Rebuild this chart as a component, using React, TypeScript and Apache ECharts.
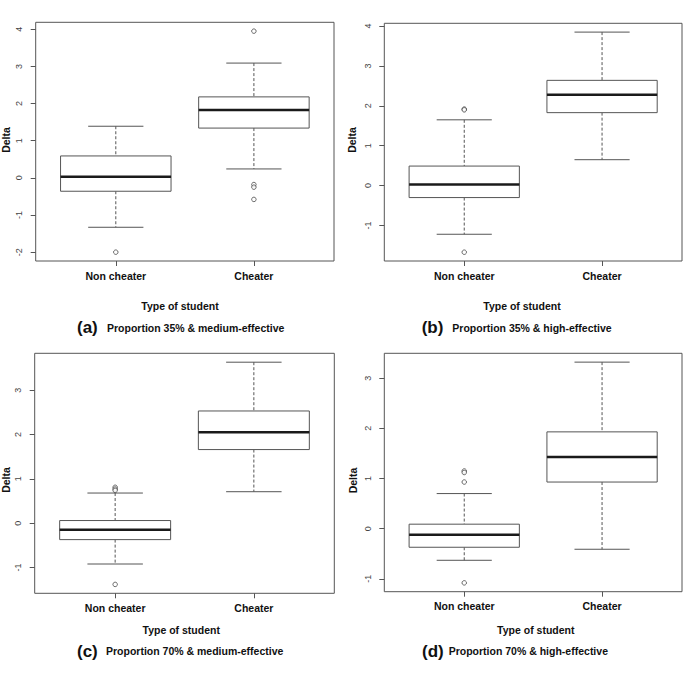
import React, { useEffect, useRef } from "react";
import * as echarts from "echarts";

const categories = ["Non cheater", "Cheater"];
const groupPositions = [1, 2];

// [lower whisker, Q1, median, Q3, upper whisker]
const boxA = [[-1.33, -0.36, 0.03, 0.59, 1.39], [0.24, 1.34, 1.83, 2.18, 3.09]];
const boxB = [[-1.22, -0.3, 0.03, 0.49, 1.65], [0.65, 1.83, 2.28, 2.64, 3.85]];
const boxC = [[-0.92, -0.37, -0.15, 0.06, 0.68], [0.71, 1.66, 2.05, 2.53, 3.63]];
const boxD = [[-0.63, -0.37, -0.12, 0.09, 0.7], [-0.41, 0.93, 1.43, 1.93, 3.32]];

// [group index, value]
const outA = [[0, -2.0], [1, 3.95], [1, -0.18], [1, -0.25], [1, -0.58]];
const outB = [[0, 1.92], [0, 1.9], [0, -1.67]];
const outC = [[0, 0.81], [0, 0.77], [0, 0.74], [0, -1.38]];
const outD = [[0, 1.15], [0, 1.12], [0, 0.93], [0, -1.08]];

const ticksA = [-2, -1, 0, 1, 2, 3, 4];
const ticksB = [-1, 0, 1, 2, 3, 4];
const ticksC = [-1, 0, 1, 2, 3];
const ticksD = [-1, 0, 1, 2, 3];

const panelLetters = ["(a)", "(b)", "(c)", "(d)"];
const panelCaptions = [
  "Proportion 35% & medium-effective",
  "Proportion 35% & high-effective",
  "Proportion 70% & medium-effective",
  "Proportion 70% & high-effective",
];
const yTitle = "Delta";
const xTitle = "Type of student";

const FONT = "'Liberation Sans', Arial, Helvetica, sans-serif";

const panels = [
  { box: boxA, out: outA, ticks: ticksA, grid: { left: 35.7, top: 22.3, width: 298.3, height: 238.7 },
    delta: [5.5, 140], type: [180, 305.5], letter: [77, 327.5], caption: [107, 327.5] },
  { box: boxB, out: outB, ticks: ticksB, grid: { left: 384.3, top: 23.3, width: 297.7, height: 237.7 },
    delta: [352.2, 140], type: [522, 305.5], letter: [421.7, 327.5], caption: [452.3, 327.5] },
  { box: boxC, out: outC, ticks: ticksC, grid: { left: 34.7, top: 353.3, width: 299.6, height: 240 },
    delta: [6.3, 480], type: [181.2, 629.5], letter: [77, 651], caption: [106, 651] },
  { box: boxD, out: outD, ticks: ticksD, grid: { left: 384.3, top: 353.3, width: 297.7, height: 238.4 },
    delta: [352.8, 480.5], type: [535.8, 629.5], letter: [422, 651], caption: [448.7, 651] },
];

function renderBox(params: any, api: any) {
  const x = api.value(0);
  const lo = api.value(1), q1 = api.value(2), med = api.value(3), q3 = api.value(4), hi = api.value(5);
  const half = 0.4, cap = 0.2;
  const tl = api.coord([x - half, q3]);
  const br = api.coord([x + half, q1]);
  const mL = api.coord([x - half, med]);
  const mR = api.coord([x + half, med]);
  const pHi = api.coord([x, hi]);
  const pQ3 = api.coord([x, q3]);
  const pQ1 = api.coord([x, q1]);
  const pLo = api.coord([x, lo]);
  const capHiL = api.coord([x - cap, hi]);
  const capHiR = api.coord([x + cap, hi]);
  const capLoL = api.coord([x - cap, lo]);
  const capLoR = api.coord([x + cap, lo]);
  const stroke = "#555";
  const dashed = { stroke, lineWidth: 1, lineDash: [3, 2] };
  const solid = { stroke, lineWidth: 1 };
  return {
    type: "group",
    children: [
      { type: "line", shape: { x1: pHi[0], y1: pHi[1], x2: pQ3[0], y2: pQ3[1] }, style: dashed },
      { type: "line", shape: { x1: pQ1[0], y1: pQ1[1], x2: pLo[0], y2: pLo[1] }, style: dashed },
      { type: "line", shape: { x1: capHiL[0], y1: capHiL[1], x2: capHiR[0], y2: capHiR[1] }, style: solid },
      { type: "line", shape: { x1: capLoL[0], y1: capLoL[1], x2: capLoR[0], y2: capLoR[1] }, style: solid },
      { type: "rect", shape: { x: tl[0], y: tl[1], width: br[0] - tl[0], height: br[1] - tl[1] },
        style: { fill: "#fff", stroke, lineWidth: 1 } },
      { type: "line", shape: { x1: mL[0], y1: mL[1], x2: mR[0], y2: mR[1] }, style: { stroke: "#1a1a1a", lineWidth: 2.5 } },
    ],
  };
}

export default function App() {
  const ref = useRef<HTMLDivElement>(null);
  useEffect(() => {
    if (!ref.current) return;
    const chart = echarts.init(ref.current, null, { renderer: "svg" });
    const grid: any[] = [];
    const xAxis: any[] = [];
    const yAxis: any[] = [];
    const series: any[] = [];
    const graphic: any[] = [];
    panels.forEach((p, i) => {
      const allVals = [...p.box.flat(), ...p.out.map((o) => o[1])];
      const lo = Math.min(...allVals);
      const hi = Math.max(...allVals);
      const pad = (hi - lo) * 0.04;
      grid.push({ ...p.grid, show: true, borderColor: "#555", borderWidth: 1, backgroundColor: "transparent", containLabel: false });
      xAxis.push({
        type: "value", gridIndex: i, min: 0.42, max: 2.58, position: "bottom",
        axisLine: { show: false, onZero: false },
        splitLine: { show: false },
        axisTick: { show: true, customValues: groupPositions, length: 5, inside: false, lineStyle: { color: "#555" } },
        axisLabel: { show: true, customValues: groupPositions, margin: 9,
          formatter: (v: number) => categories[Math.round(v) - 1] ?? "",
          fontFamily: FONT, fontWeight: "bold", fontSize: 10.5, color: "#111" },
      });
      yAxis.push({
        type: "value", gridIndex: i, min: lo - pad, max: hi + pad, position: "left",
        axisLine: { show: false, onZero: false },
        splitLine: { show: false },
        axisTick: { show: true, customValues: p.ticks, length: 5, inside: false, lineStyle: { color: "#555" } },
        axisLabel: { show: true, customValues: p.ticks, rotate: 90, margin: 12,
          fontFamily: FONT, fontSize: 9, color: "#444" },
      });
      series.push({
        type: "custom", xAxisIndex: i, yAxisIndex: i,
        data: p.box.map((b, k) => [groupPositions[k], ...b]),
        encode: { x: 0, y: [1, 2, 3, 4, 5] },
        renderItem: renderBox,
        silent: true,
      });
      series.push({
        type: "scatter", xAxisIndex: i, yAxisIndex: i,
        data: p.out.map((o) => [groupPositions[o[0]], o[1]]),
        symbol: "circle", symbolSize: 4.5,
        itemStyle: { color: "#fff", borderColor: "#333", borderWidth: 0.9 },
        silent: true, z: 5,
      });
      graphic.push({
        type: "text", x: p.delta[0], y: p.delta[1], rotation: Math.PI / 2,
        style: { text: yTitle, font: `bold 10.5px ${FONT}`, fill: "#111", textAlign: "center", textVerticalAlign: "middle" },
      });
      graphic.push({
        type: "text", x: p.type[0], y: p.type[1],
        style: { text: xTitle, font: `bold 10.5px ${FONT}`, fill: "#111", textAlign: "center", textVerticalAlign: "middle" },
      });
      graphic.push({
        type: "text", x: p.letter[0], y: p.letter[1],
        style: { text: panelLetters[i], font: `bold 17px ${FONT}`, fill: "#111", textAlign: "left", textVerticalAlign: "middle" },
      });
      graphic.push({
        type: "text", x: p.caption[0], y: p.caption[1],
        style: { text: panelCaptions[i], font: `bold 10.5px ${FONT}`, fill: "#111", textAlign: "left", textVerticalAlign: "middle" },
      });
    });
    chart.setOption({
      animation: false,
      backgroundColor: "#fff",
      textStyle: { fontFamily: FONT },
      grid, xAxis, yAxis, series, graphic,
    });
    return () => chart.dispose();
  }, []);
  return <div ref={ref} style={{ position: "absolute", left: 0, top: 0, width: 685, height: 678 }} />;
}
